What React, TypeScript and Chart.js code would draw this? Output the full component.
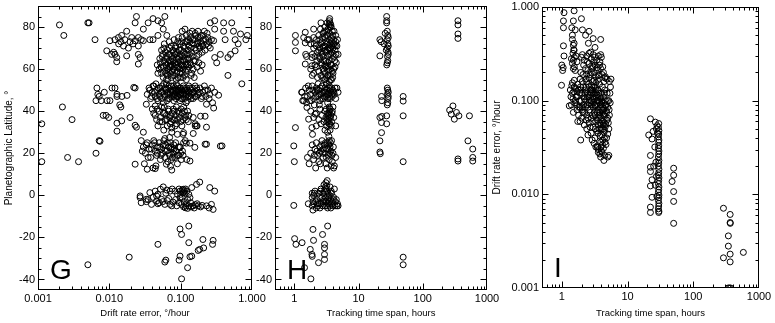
import React, { useEffect, useRef } from 'react';
import { Chart, registerables } from 'chart.js';

Chart.register(...registerables);

type Pt = [number, number];

// ---------- Panel G: drift rate error (deg/hour) vs planetographic latitude ----------
const gSparse: Pt[] = [
  [0.00113, 34], [0.00113, 16], [0.002, 81], [0.0023, 76], [0.0022, 42], [0.0026, 18], [0.0037, 16],
  [0.003, 36], [0.005, 82], [0.0052, 82], [0.0063, 74], [0.005, -33], [0.0065, 20], [0.0072, 26],
  [0.0082, 38], [0.009, 38], [0.0098, 37], [0.0074, 25.7], [0.0128, 34.3], [0.0128, 30.5],
  [0.0195, 37], [0.0149, 35.4], [0.023, 33.3], [0.024, 32.4], [0.03, 30],
];
const gHighLeft: Pt[] = [
  [0.024, 85], [0.023, 82], [0.035, 82], [0.041, 84], [0.048, 83], [0.06, 85], [0.054, 82], [0.03, 79], [0.057, 79],
  [0.0175, 78], [0.0149, 76], [0.0134, 75], [0.0165, 74], [0.0206, 75], [0.023, 73.5], [0.0255, 75], [0.03, 73.5],
  [0.037, 74], [0.041, 74], [0.048, 76], [0.064, 76], [0.0102, 73.5], [0.012, 74], [0.0158, 71], [0.0185, 70],
  [0.0255, 71], [0.0092, 68.7], [0.0108, 67], [0.012, 67], [0.0127, 65.5], [0.0175, 66.3], [0.0255, 67],
  [0.027, 65.5], [0.0255, 62.4], [0.0127, 63.5], [0.0115, 68], [0.0135, 72], [0.0145, 73], [0.0195, 73],
  [0.0215, 72], [0.028, 74],
];
const gHighMain: Pt[] = [
  [0.05, 60], [0.052, 63], [0.054, 58], [0.055, 66], [0.057, 61], [0.058, 64], [0.06, 59], [0.061, 68], [0.062, 62],
  [0.064, 65], [0.065, 57], [0.066, 60], [0.067, 63], [0.068, 67], [0.07, 70], [0.071, 61], [0.072, 58], [0.073, 64],
  [0.075, 66], [0.076, 62], [0.078, 69], [0.079, 60], [0.08, 64], [0.082, 57], [0.083, 67], [0.085, 71], [0.086, 62],
  [0.088, 65], [0.089, 59], [0.09, 68], [0.092, 63], [0.094, 61], [0.095, 66], [0.097, 72], [0.098, 58], [0.1, 64],
  [0.102, 69], [0.104, 62], [0.106, 66], [0.108, 60], [0.11, 71], [0.112, 64], [0.115, 67], [0.117, 59], [0.119, 62],
  [0.122, 73], [0.125, 65], [0.128, 69], [0.13, 61], [0.133, 67], [0.136, 63], [0.14, 70], [0.143, 58], [0.146, 66],
  [0.15, 72], [0.054, 69], [0.059, 72], [0.063, 55], [0.047, 62], [0.048, 58], [0.069, 73], [0.074, 56], [0.081, 74],
  [0.087, 55], [0.093, 75], [0.099, 56], [0.105, 75], [0.113, 57], [0.12, 76], [0.127, 74], [0.138, 75],
  [0.155, 74], [0.16, 77], [0.165, 69], [0.17, 72], [0.175, 75], [0.18, 67], [0.185, 70], [0.19, 73], [0.195, 76],
  [0.2, 68], [0.205, 71], [0.21, 74], [0.215, 78], [0.22, 69], [0.23, 72], [0.24, 75], [0.25, 73], [0.26, 70],
  [0.27, 74], [0.16, 64], [0.17, 61], [0.18, 63], [0.19, 59], [0.2, 62], [0.15, 60], [0.14, 57], [0.155, 56],
  [0.135, 77], [0.145, 78], [0.175, 78], [0.105, 78], [0.115, 79],
];
const gHighCore: Pt[] = [
  [0.051, 65], [0.053, 61], [0.056, 67], [0.058, 70], [0.06, 63], [0.062, 58], [0.063, 66], [0.065, 69], [0.067, 59],
  [0.069, 64], [0.07, 67], [0.072, 62], [0.074, 71], [0.076, 59], [0.077, 65], [0.079, 68], [0.081, 61], [0.083, 63],
  [0.084, 70], [0.086, 67], [0.088, 58], [0.09, 61], [0.091, 73], [0.093, 65], [0.095, 69], [0.097, 60], [0.099, 67],
  [0.101, 62], [0.103, 73], [0.105, 58], [0.107, 64], [0.109, 68], [0.111, 61], [0.114, 70], [0.116, 65], [0.118, 73],
  [0.121, 60], [0.124, 67], [0.126, 62], [0.129, 71], [0.132, 65], [0.135, 73], [0.139, 62], [0.142, 68], [0.147, 74],
  [0.152, 64], [0.158, 70], [0.163, 76], [0.168, 66], [0.173, 73], [0.182, 71], [0.188, 75], [0.198, 72], [0.208, 76],
  [0.225, 74], [0.235, 77], [0.245, 71], [0.057, 56], [0.066, 55], [0.078, 57], [0.092, 56], [0.108, 56], [0.12, 55],
];
const gHighRight: Pt[] = [
  [0.26, 82], [0.3, 83], [0.4, 82], [0.52, 82], [0.3, 79], [0.4, 78], [0.55, 78], [0.69, 76.7], [0.86, 76],
  [0.42, 74], [0.58, 74], [0.82, 74], [0.29, 73.5], [0.64, 72], [0.58, 68.7], [0.5, 67], [0.36, 67], [0.3, 65.5],
  [0.46, 65.5], [0.32, 63], [0.46, 57], [0.72, 53],
];
const gMid: Pt[] = [
  [0.0067, 51], [0.0069, 48], [0.0065, 45], [0.0077, 45], [0.0093, 45], [0.0102, 45], [0.0109, 51], [0.012, 51],
  [0.0128, 48], [0.0128, 47], [0.015, 47], [0.0177, 47.5], [0.014, 43], [0.0145, 42], [0.023, 51], [0.0085, 49],
  [0.0072, 47], [0.022, 51.3],
  [0.034, 48], [0.036, 51], [0.038, 46], [0.04, 49], [0.042, 52], [0.044, 47], [0.046, 50], [0.048, 45], [0.05, 48],
  [0.052, 51], [0.054, 46], [0.056, 49], [0.058, 53], [0.06, 47], [0.062, 50], [0.064, 45], [0.066, 48], [0.068, 51],
  [0.07, 46], [0.072, 49], [0.074, 52], [0.076, 47], [0.078, 50], [0.08, 45], [0.082, 48], [0.084, 51], [0.086, 46],
  [0.088, 49], [0.09, 52], [0.092, 47], [0.094, 50], [0.096, 48], [0.098, 45], [0.1, 51], [0.103, 49], [0.106, 46],
  [0.109, 52], [0.112, 48], [0.115, 50], [0.118, 47], [0.121, 51], [0.124, 45], [0.127, 49], [0.13, 52], [0.134, 47],
  [0.138, 50], [0.142, 48], [0.146, 51], [0.15, 46], [0.155, 49], [0.16, 52], [0.165, 47], [0.17, 50], [0.178, 48],
  [0.186, 51], [0.195, 46], [0.205, 49], [0.215, 52], [0.225, 47], [0.24, 50], [0.255, 48], [0.27, 51], [0.3, 49],
  [0.045, 53], [0.057, 44], [0.087, 53], [0.119, 44], [0.063, 53], [0.033, 43.3], [0.044, 42.5],
  [0.04, 41], [0.044, 38], [0.046, 36], [0.048, 33], [0.05, 40], [0.052, 37], [0.055, 35], [0.057, 39], [0.059, 42],
  [0.061, 36], [0.063, 38], [0.065, 33], [0.068, 40], [0.07, 37], [0.073, 35], [0.076, 39], [0.079, 41], [0.082, 36],
  [0.085, 38], [0.088, 34], [0.092, 40], [0.096, 37], [0.1, 35], [0.105, 39], [0.11, 42], [0.115, 37], [0.12, 36],
  [0.125, 40], [0.13, 38], [0.15, 37], [0.16, 34], [0.075, 32], [0.058, 31],
  [0.23, 43.3], [0.28, 44], [0.29, 41.5], [0.34, 47.6], [0.19, 37.6], [0.22, 37.6], [0.17, 33], [0.16, 33],
  [0.23, 32.4], [0.108, 29], [0.104, 33], [0.075, 30], [0.167, 33], [0.15, 29.4], [0.11, 29.8], [0.09, 29],
];
const gMidCore: Pt[] = [
  [0.037, 50], [0.039, 47], [0.041, 52], [0.043, 49], [0.047, 46], [0.049, 51], [0.051, 47], [0.053, 49], [0.055, 52],
  [0.059, 48], [0.061, 51], [0.065, 49], [0.067, 46], [0.069, 52], [0.071, 48], [0.073, 50], [0.077, 49], [0.079, 52],
  [0.081, 47], [0.083, 50], [0.085, 48], [0.089, 47], [0.091, 50], [0.093, 49], [0.097, 51], [0.099, 48], [0.101, 46],
  [0.104, 50], [0.107, 48], [0.11, 51], [0.113, 46], [0.117, 49], [0.12, 48], [0.123, 50], [0.128, 47], [0.132, 49],
  [0.136, 51], [0.14, 46], [0.148, 49], [0.158, 47], [0.168, 51], [0.182, 49], [0.2, 47], [0.22, 50], [0.25, 46],
  [0.042, 39], [0.047, 41], [0.051, 35], [0.054, 42], [0.06, 39], [0.064, 36], [0.067, 41], [0.072, 38], [0.078, 36],
  [0.081, 40], [0.087, 42], [0.09, 36], [0.095, 39], [0.102, 41], [0.108, 36], [0.113, 40], [0.118, 38], [0.128, 35],
  [0.071, 34], [0.084, 33],
];
const gLow: Pt[] = [
  [0.23, 24.3], [0.36, 23.4], [0.135, 24.8], [0.12, 24.8], [0.098, 22.8], [0.158, 22.8], [0.116, 26],
  [0.028, 26], [0.03, 23], [0.032, 20], [0.034, 25], [0.036, 22], [0.038, 18], [0.04, 24], [0.042, 26], [0.044, 21],
  [0.046, 19], [0.048, 23], [0.05, 25], [0.052, 17], [0.054, 22], [0.056, 20], [0.058, 26], [0.06, 18], [0.062, 24],
  [0.064, 21], [0.066, 16], [0.068, 23], [0.07, 19], [0.072, 25], [0.074, 17], [0.076, 22], [0.078, 20], [0.08, 24],
  [0.083, 18], [0.086, 21], [0.09, 15], [0.094, 19], [0.098, 23], [0.102, 17], [0.106, 21], [0.11, 25], [0.045, 14],
  [0.041, 13], [0.075, 12], [0.031, 15], [0.023, 14.8], [0.034, 12.4], [0.063, 14.8], [0.072, 13.8], [0.122, 17],
  [0.135, 16.3], [0.044, 12.7], [0.06, 27], [0.07, 27.5], [0.22, 24.3], [0.38, 23.5],
  [0.029, 21], [0.033, 24], [0.035, 18], [0.039, 22], [0.043, 25], [0.047, 20], [0.051, 23], [0.053, 19], [0.057, 24],
  [0.061, 21], [0.065, 25], [0.069, 20], [0.073, 23], [0.077, 18], [0.081, 22], [0.085, 25], [0.089, 19], [0.093, 23],
  [0.1, 20], [0.108, 19],
];
const gEquator: Pt[] = [
  [0.037, 1.3], [0.044, 2], [0.052, 2.9], [0.057, 4], [0.071, 2], [0.083, 2], [0.098, 2], [0.109, 2.9], [0.122, 2],
  [0.143, 3.7], [0.167, 5.2], [0.185, 6.3], [0.256, 3.7], [0.3, 2], [0.13, 0.5], [0.027, -0.3], [0.11, 1.5],
  [0.105, 2.5], [0.115, 1], [0.062, 1], [0.09, 0.5],
  [0.027, -1.1], [0.028, -3.5], [0.033, -1.9], [0.039, -4.3], [0.046, -2.7], [0.054, -1.9], [0.06, -4.3],
  [0.071, -4.3], [0.088, -5], [0.103, -4.3], [0.116, -5.9], [0.13, -5], [0.15, -5], [0.176, -5], [0.23, -5],
  [0.27, -4.3], [0.285, -6.7], [0.135, -1.1], [0.098, -1.1], [0.046, -0.3], [0.033, -3], [0.05, -3.5],
  [0.065, -2.5], [0.078, -3.2], [0.12, -4], [0.14, -5.5], [0.16, -4.5], [0.19, -5.5], [0.11, -5.5], [0.125, -6.2],
  [0.035, -2], [0.041, -1], [0.048, -4], [0.056, -3], [0.068, -1.5], [0.075, -5], [0.085, -2], [0.095, -3.5],
  [0.105, -1], [0.112, -3], [0.118, -5], [0.125, -2], [0.138, -3.5], [0.155, -6], [0.17, -4], [0.2, -4.8],
  [0.25, -6], [0.1, 0.5], [0.117, 3], [0.107, 1.2], [0.113, 2.2], [0.095, 3], [0.076, 3], [0.064, 2.5], [0.048, 0.5],
];
const gSouth: Pt[] = [
  [0.098, -16], [0.13, -14.6], [0.103, -18.6], [0.13, -22.5], [0.205, -21], [0.285, -21.4], [0.28, -23.3],
  [0.21, -25], [0.185, -25.7], [0.176, -26.2], [0.143, -28.9], [0.135, -29.2], [0.048, -23.3], [0.098, -28.9],
  [0.095, -30.8], [0.062, -30.8], [0.06, -31.7], [0.125, -34.4], [0.103, -39.7], [0.019, -29.4],
];

// ---------- Panel H: tracking time span (hours) vs planetographic latitude ----------
const hSparse: Pt[] = [
  [1.04, 76], [1.04, 72.7], [1.04, 68.7], [1.48, 77.5], [1.4, 75], [1.48, 72.5], [2.0, 79], [1.5, 67], [1.55, 66],
  [1.48, 62.4], [1.88, 65.5], [1.88, 61.6], [1.04, 32.2], [0.98, 23.5], [1.88, 32.2], [1.92, 29], [1.67, 36.2],
  [1.4, 45], [1.32, 49], [1.57, 41.8], [2.11, 38.6], [1.01, -20.6], [1.06, -23.3], [1.32, -22.5], [1.95, -16.2],
  [1.99, -21.4], [1.77, -25.7], [1.88, -28.1], [1.9, -29], [2.95, -23.3], [2.95, -25], [2.95, -28.1], [2.95, -30.5],
  [2.38, -32], [3.3, -14.6], [2.75, -18.6], [1.81, -39.7], [0.98, -4.8], [1.44, -34.4], [1.0, 16],
];
const hDense: Pt[] = [
  [2.6, 82], [3.0, 80], [3.5, 83], [3.6, 82], [3.7, 81], [3.6, 80], [3.2, 78], [2.8, 77], [3.9, 78], [2.4, 76],
  [2.2, 74], [2.5, 74], [2.7, 73], [3.0, 75], [3.3, 76], [3.5, 74], [3.8, 75], [4.1, 74], [4.4, 73], [4.7, 74],
  [1.8, 72], [2.0, 70], [2.2, 71], [2.4, 69], [2.6, 72], [2.8, 70], [3.0, 71], [3.2, 73], [3.4, 70], [3.6, 72],
  [3.8, 71], [4.0, 70], [4.3, 69], [4.6, 71], [1.9, 67], [2.1, 66], [2.3, 68], [2.5, 65], [2.7, 67], [2.9, 64],
  [3.1, 68], [3.3, 66], [3.5, 64], [3.7, 67], [3.9, 65], [4.2, 66], [4.5, 63], [2.6, 63], [3.0, 62], [3.4, 61],
  [3.8, 62], [4.1, 60], [1.8, 60], [2.0, 58], [2.2, 61], [2.4, 59], [2.6, 57], [2.8, 60], [3.0, 58], [3.2, 56],
  [3.4, 59], [3.6, 57], [3.8, 55], [4.0, 58], [2.3, 56], [2.9, 55], [3.5, 54], [1.9, 57], [2.1, 62], [2.5, 70],
  [3.1, 64], [3.3, 69], [4.8, 67], [4.4, 76], [2.0, 75], [1.7, 74], [1.6, 74], [2.8, 66], [3.6, 69], [4.2, 72],
  [2.55, 79], [2.75, 75], [2.95, 78], [3.15, 76], [3.35, 79], [3.55, 77], [3.75, 73], [3.95, 76], [4.15, 78],
  [4.35, 71], [2.65, 68], [2.85, 71], [3.05, 69], [3.25, 72], [3.45, 67], [3.65, 70], [3.85, 68], [4.05, 72],
  [4.25, 64], [4.45, 67], [2.7, 62], [2.9, 59], [3.1, 61], [3.3, 63], [3.5, 60], [3.7, 62], [3.9, 59], [4.3, 61],
  [2.75, 56], [3.05, 55], [3.35, 57], [3.65, 55], [3.95, 56], [3.25, 82], [3.45, 81], [3.75, 80], [3.55, 84],
  [2.45, 66], [2.25, 64], [2.05, 72],
];
const hMid: Pt[] = [
  [1.3, 49], [1.5, 51], [1.6, 47], [1.7, 50], [1.8, 48], [1.9, 52], [2.0, 46], [2.1, 49], [2.2, 51], [2.3, 47],
  [2.4, 50], [2.5, 45], [2.6, 48], [2.7, 52], [2.8, 46], [2.9, 49], [3.0, 51], [3.1, 47], [3.2, 50], [3.3, 44],
  [3.4, 48], [3.5, 52], [3.6, 46], [3.7, 49], [3.8, 51], [3.9, 47], [4.0, 50], [4.2, 48], [4.4, 46], [4.6, 51],
  [4.8, 49], [1.35, 45], [1.45, 47], [1.55, 44], [1.75, 45], [2.05, 43], [2.45, 43], [3.15, 53], [2.35, 53], [1.65, 52],
  [2.15, 47], [2.25, 50], [2.55, 51], [2.65, 46], [2.75, 49], [2.95, 47], [3.05, 49], [3.25, 48], [3.45, 51],
  [3.55, 47], [3.65, 50], [3.85, 48], [4.1, 49], [4.3, 51], [3.35, 46], [1.95, 50], [1.85, 45], [2.45, 48],
  [1.8, 40], [2.0, 37], [2.2, 39], [2.4, 36], [2.5, 41], [2.7, 38], [2.9, 35], [3.0, 40], [3.1, 37], [3.2, 33],
  [3.3, 39], [3.4, 36], [3.5, 42], [3.6, 34], [3.7, 38], [3.8, 35], [3.9, 40], [4.1, 37], [4.4, 33], [3.0, 31],
  [3.3, 30], [3.6, 31], [2.6, 34], [2.2, 33], [4.0, 42], [3.45, 28], [3.5, 26],
  [3.15, 41], [3.25, 36], [3.35, 38], [3.45, 34], [3.55, 40], [3.65, 37], [3.75, 33], [3.85, 39], [3.45, 39],
  [3.6, 41], [3.3, 35], [3.5, 37],
];
const hLow: Pt[] = [
  [1.6, 18], [1.8, 20], [1.9, 24], [2.0, 17], [2.1, 22], [2.2, 25], [2.3, 19], [2.4, 16], [2.5, 23], [2.6, 21],
  [2.7, 26], [2.8, 18], [2.9, 24], [3.0, 20], [3.1, 15], [3.2, 22], [3.3, 25], [3.4, 19], [3.5, 17], [3.6, 23],
  [3.7, 21], [3.8, 26], [3.9, 16], [4.0, 20], [4.2, 14], [4.4, 18], [2.15, 13], [1.7, 15], [2.55, 15], [3.25, 13],
  [4.1, 13], [3.75, 14], [2.45, 20], [2.65, 24], [2.85, 22], [3.05, 25], [3.15, 18], [3.35, 22], [3.55, 20],
  [3.65, 25], [3.85, 19], [4.05, 23], [2.25, 21], [2.05, 19], [3.45, 24], [2.75, 20],
  [1.9, 1], [1.9, -1], [1.95, -3], [1.9, -5], [1.95, -7], [2.0, 0], [2.1, 2], [2.2, -2], [2.3, -4], [2.4, 1],
  [2.5, -6], [2.6, 3], [2.7, -1], [2.8, -3], [2.9, 5], [3.0, -5], [3.1, 6], [3.2, 2], [3.3, -2], [3.4, -4],
  [3.5, 0], [3.6, 4], [3.7, -6], [3.8, 1], [3.9, -3], [4.0, -5], [4.2, 3], [4.5, -2], [4.7, -4], [4.8, -5],
  [2.2, -6], [2.5, -1], [2.8, 1], [3.1, -1], [3.3, -6], [3.5, -3], [2.0, -4], [2.35, -5], [2.65, -4], [3.15, -3],
  [3.25, 7], [3.05, 4], [4.1, -1], [4.3, -5], [1.65, -4],
  [2.05, 1], [2.15, -3], [2.45, -4], [2.55, 2], [2.75, -5], [2.85, -2], [2.95, 2], [3.05, -3], [3.2, -5], [3.35, 1],
  [3.45, -1], [3.55, -5], [3.65, -2], [3.75, 2], [3.85, -4], [4.05, -2], [4.35, -3], [4.6, -5], [3.2, 4.5], [3.1, 3],
];
const hLong: Pt[] = [
  [27.4, 85], [27.4, 83], [27.4, 82], [21.5, 74], [22.5, 73], [25, 72], [28, 78], [28.5, 76], [28, 74], [28.5, 72],
  [28, 70], [28.8, 68], [28.2, 66], [28.5, 64], [28, 63], [27.5, 62], [29, 75], [29, 71], [29, 67], [21.5, 66.3],
  [26, 77], [27, 69], [22.8, 47], [23, 45], [28, 51], [28.5, 50], [28.2, 48], [28.8, 46], [28.5, 44], [28, 43],
  [29, 47], [29, 49], [21.5, 37], [23, 37.5], [27.4, 37.8], [27.4, 34], [22.8, 34.6], [22.8, 29.8], [21.5, 25.9],
  [21.5, 20.6], [21.8, 19.8], [49.5, 47], [49.5, 44.8], [49.5, 37.8], [49.5, 16], [49.5, -29.4], [49.5, -33],
  [353, 83], [353, 81], [353, 76.7], [353, 74.6], [295, 42.5], [278, 38.6], [335, 39.4], [310, 36.2], [262, 40.5],
  [365, 37.8], [533, 37.8], [505, 25.9], [353, 16.3], [353, 17.3], [600, 16.3], [600, 18], [600, 22],
];

// ---------- Panel I: tracking time span (hours) vs drift rate error ----------
const iShort: Pt[] = [
  [1.08, 0.87], [1.54, 0.91], [1.06, 0.71], [1.5, 0.71], [1.99, 0.75], [1.06, 0.6], [1.42, 0.6], [1.6, 0.57],
  [2.06, 0.57], [2.6, 0.55], [2.3, 0.5], [3.0, 0.46], [3.9, 0.45], [1.45, 0.5], [1.45, 0.45], [1.54, 0.41],
  [1.06, 0.385], [2.54, 0.41], [3.2, 0.37], [1.54, 0.345], [1.08, 0.3], [1.0, 0.24], [1.03, 0.21], [1.05, 0.225],
  [0.99, 0.146], [2.06, 0.31], [2.6, 0.32], [3.9, 0.31], [1.5, 0.39], [1.52, 0.35], [1.48, 0.32], [1.55, 0.29],
  [1.5, 0.27], [1.45, 0.25], [1.55, 0.23], [1.5, 0.22], [1.6, 0.21], [1.4, 0.28], [1.65, 0.3], [1.7, 0.26],
  [2.0, 0.29], [2.2, 0.27], [2.4, 0.3], [2.6, 0.25], [2.8, 0.28], [3.0, 0.31], [3.2, 0.24], [3.4, 0.27], [3.6, 0.3],
  [3.8, 0.26], [4.0, 0.29], [4.2, 0.23], [2.3, 0.22], [2.5, 0.21], [2.7, 0.19], [2.9, 0.22], [3.1, 0.2], [3.3, 0.18],
  [3.5, 0.21], [3.7, 0.19], [3.9, 0.22], [4.3, 0.2], [4.6, 0.18], [4.9, 0.17], [2.1, 0.19], [1.9, 0.17], [2.35, 0.17],
  [3.05, 0.26], [4.5, 0.175],
  [1.35, 0.13], [1.45, 0.12], [1.55, 0.14], [1.65, 0.11], [1.75, 0.15], [1.85, 0.1], [1.95, 0.13], [2.05, 0.16],
  [2.15, 0.09], [2.25, 0.12], [2.35, 0.14], [2.45, 0.11], [2.55, 0.15], [2.65, 0.08], [2.75, 0.13], [2.85, 0.1],
  [2.95, 0.16], [3.05, 0.12], [3.15, 0.09], [3.25, 0.14], [3.35, 0.11], [3.45, 0.075], [3.55, 0.13], [3.65, 0.1],
  [3.75, 0.15], [3.85, 0.085], [3.95, 0.12], [4.05, 0.095], [4.15, 0.14], [4.3, 0.11], [4.5, 0.13], [4.7, 0.09],
  [4.9, 0.12], [5.2, 0.1], [5.5, 0.14], [5.3, 0.16], [5.6, 0.17], [1.4, 0.09], [1.3, 0.088], [1.5, 0.075], [1.6, 0.1],
  [1.7, 0.08], [1.8, 0.07], [1.9, 0.085], [2.0, 0.065], [2.1, 0.075], [2.2, 0.105], [2.4, 0.07], [2.6, 0.095],
  [2.8, 0.065], [3.0, 0.085], [3.2, 0.07], [3.4, 0.1], [3.6, 0.065], [3.8, 0.075], [4.0, 0.065], [4.2, 0.08],
  [4.4, 0.07], [4.6, 0.1], [4.8, 0.075], [5.0, 0.085], [5.3, 0.07], [5.0, 0.065], [1.55, 0.165], [1.45, 0.155],
  [2.85, 0.145], [3.5, 0.165], [1.7, 0.125], [2.3, 0.085], [2.7, 0.115], [3.1, 0.105], [3.9, 0.105], [4.4, 0.12],
  [5.4, 0.12],
  [2.2, 0.055], [2.4, 0.05], [2.6, 0.058], [2.8, 0.045], [3.0, 0.052], [3.2, 0.04], [3.4, 0.048], [3.6, 0.055],
  [3.8, 0.042], [4.0, 0.05], [4.2, 0.038], [4.4, 0.046], [4.6, 0.053], [4.8, 0.04], [5.0, 0.044], [5.2, 0.05],
  [3.1, 0.035], [3.5, 0.033], [3.9, 0.036], [4.3, 0.031], [4.7, 0.034], [1.94, 0.038], [1.9, 0.06], [3.3, 0.032],
  [3.6, 0.03], [4.0, 0.029], [2.5, 0.043], [2.9, 0.038], [3.47, 0.032], [3.6, 0.028], [3.8, 0.027], [3.9, 0.025],
  [4.1, 0.028], [4.37, 0.023], [5.2, 0.026], [5.0, 0.025], [4.5, 0.026],
];
const iCore: Pt[] = [
  [1.38, 0.11], [1.42, 0.145], [1.48, 0.105], [1.52, 0.125], [1.58, 0.095], [1.62, 0.135], [1.68, 0.09], [1.72, 0.11],
  [1.78, 0.13], [1.82, 0.085], [1.88, 0.12], [1.92, 0.14], [1.98, 0.1], [2.02, 0.12], [2.08, 0.085], [2.12, 0.14],
  [2.18, 0.11], [2.22, 0.075], [2.28, 0.13], [2.32, 0.1], [2.38, 0.16], [2.42, 0.09], [2.48, 0.12], [2.52, 0.065],
  [2.58, 0.11], [2.62, 0.14], [2.68, 0.1], [2.72, 0.075], [2.78, 0.12], [2.82, 0.09], [2.88, 0.13], [2.92, 0.07],
  [2.98, 0.11], [3.02, 0.095], [3.08, 0.14], [3.12, 0.075], [3.18, 0.12], [3.22, 0.088], [3.28, 0.06], [3.32, 0.13],
  [3.38, 0.09], [3.42, 0.115], [3.48, 0.062], [3.52, 0.1], [3.58, 0.08], [3.62, 0.12], [3.68, 0.07], [3.72, 0.095],
  [3.78, 0.058], [3.82, 0.11], [3.88, 0.068], [3.92, 0.09], [3.98, 0.055], [4.02, 0.08], [4.08, 0.1], [4.12, 0.06],
  [4.18, 0.085], [4.22, 0.05], [4.28, 0.072], [4.32, 0.095], [4.38, 0.058], [4.42, 0.082], [4.48, 0.048], [4.52, 0.068],
  [4.58, 0.09], [4.65, 0.056], [4.75, 0.078], [4.85, 0.062], [4.95, 0.1], [5.1, 0.058], [5.25, 0.08], [5.45, 0.095],
  [3.1, 0.165], [3.3, 0.155], [2.6, 0.175], [2.8, 0.2], [3.6, 0.185], [4.1, 0.19], [4.4, 0.16], [2.45, 0.26],
  [2.95, 0.235], [3.45, 0.225], [3.75, 0.24], [2.15, 0.24], [2.75, 0.33], [3.15, 0.29], [1.95, 0.2], [2.4, 0.19],
  [3.25, 0.05], [3.55, 0.045], [3.75, 0.05], [4.05, 0.043], [4.25, 0.055], [4.45, 0.04], [4.55, 0.036], [3.95, 0.032],
  [4.15, 0.034], [2.7, 0.052], [2.95, 0.06], [2.35, 0.062], [2.05, 0.08], [1.75, 0.06],
];
const iLong: Pt[] = [
  [22.3, 0.064], [26.5, 0.059], [28.2, 0.054], [21, 0.043], [23.6, 0.039], [29.8, 0.036], [22.3, 0.026],
  [22.3, 0.0195], [22.3, 0.0175], [23.6, 0.0143], [22.3, 0.0123], [23.6, 0.0093], [22.3, 0.0073], [22.3, 0.0064],
  [29.8, 0.057], [29.5, 0.052], [30, 0.048], [29.8, 0.044], [29.5, 0.041], [30, 0.038], [29.8, 0.033], [29.5, 0.031],
  [30, 0.029], [29.8, 0.027], [29.5, 0.025], [30, 0.023], [29.8, 0.0215], [29.5, 0.02], [30, 0.0185], [29.8, 0.017],
  [29.5, 0.016], [30, 0.015], [29.8, 0.014], [29.5, 0.013], [30, 0.012], [29.8, 0.0112], [29.5, 0.0105], [30, 0.0098],
  [29.8, 0.0092], [29.5, 0.0086], [30, 0.008], [29.8, 0.0075], [29.5, 0.007], [30, 0.0066], [29.8, 0.0064],
  [28.5, 0.045], [27.5, 0.05], [27, 0.022], [26.5, 0.0125], [28, 0.0095], [25, 0.02], [26, 0.032], [24.5, 0.047],
  [27.5, 0.0155],
  [50.3, 0.019], [50.3, 0.016], [47.6, 0.0137], [50.3, 0.0107], [50.3, 0.0084], [50.3, 0.0049],
  [288, 0.0071], [364, 0.0061], [364, 0.005], [366, 0.0049], [342, 0.0036], [342, 0.0028], [364, 0.0023],
  [288, 0.0021], [364, 0.0019], [578, 0.0024], [340, 0.001], [355, 0.001], [370, 0.001],
];

// ---------- axes ----------
const latTicks = [-40, -20, 0, 20, 40, 60, 80];
const latLabels = ['-40', '-20', '0', '20', '40', '60', '80'];
const driftTicks = [0.001, 0.01, 0.1, 1];
const driftLabels = ['0.001', '0.010', '0.100', '1.000'];
const spanTicks = [1, 10, 100, 1000];
const spanLabels = ['1', '10', '100', '1000'];
const titleLat = 'Planetographic Latitude, °';
const titleDrift = 'Drift rate error, °/hour';
const titleSpan = 'Tracking time span, hours';

const FONT = "'Liberation Sans', Arial, Helvetica, sans-serif";

type AxisSpec = {
  type: 'linear' | 'logarithmic';
  min: number;
  max: number;
  ticks: number[];
  labels: string[];
  title: string | null;
};

type PanelSpec = {
  letter: string;
  box: { left: number; width: number; height: number };
  area: { left: number; top: number; right: number; bottom: number };
  x: AxisSpec;
  y: AxisSpec;
  data: Pt[];
};

const H_CANVAS = 323;

const panels: PanelSpec[] = [
  {
    letter: 'G',
    box: { left: 0, width: 270, height: H_CANVAS },
    area: { left: 38, top: 6, right: 252, bottom: 290 },
    x: { type: 'logarithmic', min: 0.001, max: 1, ticks: driftTicks, labels: driftLabels, title: titleDrift },
    y: { type: 'linear', min: -45, max: 90, ticks: latTicks, labels: latLabels, title: titleLat },
    data: [...gSparse, ...gHighLeft, ...gHighMain, ...gHighCore, ...gHighRight, ...gMid, ...gMidCore, ...gLow, ...gEquator, ...gSouth],
  },
  {
    letter: 'H',
    box: { left: 250, width: 250, height: H_CANVAS },
    area: { left: 275, top: 6, right: 487, bottom: 290 },
    x: { type: 'logarithmic', min: 0.5, max: 1000, ticks: spanTicks, labels: spanLabels, title: titleSpan },
    y: { type: 'linear', min: -45, max: 90, ticks: latTicks, labels: latLabels, title: null },
    data: [...hSparse, ...hDense, ...hMid, ...hLow, ...hLong],
  },
  {
    letter: 'I',
    box: { left: 488, width: 287, height: H_CANVAS },
    area: { left: 542, top: 7, right: 759, bottom: 288 },
    x: { type: 'logarithmic', min: 0.5, max: 1000, ticks: spanTicks, labels: spanLabels, title: titleSpan },
    y: { type: 'logarithmic', min: 0.001, max: 1, ticks: driftTicks, labels: driftLabels, title: titleDrift },
    data: [...iShort, ...iCore, ...iLong],
  },
];

function minorValues(spec: AxisSpec): { v: number; major: boolean }[] {
  const out: { v: number; major: boolean }[] = [];
  if (spec.type === 'logarithmic') {
    const d0 = Math.floor(Math.log10(spec.min));
    const d1 = Math.ceil(Math.log10(spec.max));
    for (let d = d0; d <= d1; d++) {
      for (let m = 1; m <= 9; m++) {
        const v = m * Math.pow(10, d);
        if (v >= spec.min * 0.999 && v <= spec.max * 1.001) out.push({ v, major: m === 1 });
      }
    }
  } else {
    for (let v = Math.ceil(spec.min / 5) * 5; v <= spec.max; v += 5) {
      out.push({ v, major: v % 20 === 0 });
    }
  }
  return out;
}

function Panel({ spec }: { spec: PanelSpec }) {
  const ref = useRef<HTMLCanvasElement | null>(null);
  useEffect(() => {
    if (!ref.current) return;
    const { box, area } = spec;
    const localLeft = area.left - box.left;
    const localRight = area.right - box.left;

    const framePlugin = {
      id: 'frame' + spec.letter,
      afterDatasetsDraw(chart: any) {
        const { ctx, chartArea: a, scales } = chart;
        const xs = scales.x;
        const ys = scales.y;
        ctx.save();
        ctx.strokeStyle = '#000';
        ctx.lineWidth = 1;
        const L = Math.round(a.left) + 0.5;
        const R = Math.round(a.right) - 0.5;
        const T = Math.round(a.top) + 0.5;
        const B = Math.round(a.bottom) - 0.5;
        ctx.strokeRect(L, T, R - L, B - T);
        ctx.beginPath();
        for (const t of minorValues(spec.x)) {
          const px = Math.round(xs.getPixelForValue(t.v)) + 0.5;
          if (px < L || px > R) continue;
          const len = t.major ? 6 : 3;
          ctx.moveTo(px, B);
          ctx.lineTo(px, B - len);
          ctx.moveTo(px, T);
          ctx.lineTo(px, T + len);
        }
        for (const t of minorValues(spec.y)) {
          const py = Math.round(ys.getPixelForValue(t.v)) + 0.5;
          if (py < T || py > B) continue;
          const len = t.major ? 6 : 3;
          ctx.moveTo(L, py);
          ctx.lineTo(L + len, py);
          ctx.moveTo(R, py);
          ctx.lineTo(R - len, py);
        }
        ctx.stroke();
        ctx.fillStyle = '#000';
        ctx.font = `28px ${FONT}`;
        ctx.textAlign = 'left';
        ctx.textBaseline = 'alphabetic';
        ctx.fillText(spec.letter, a.left + 12, a.bottom - 11.5);
        ctx.restore();
      },
    };

    const mkScale = (s: AxisSpec, horizontal: boolean) => ({
      type: s.type,
      min: s.min,
      max: s.max,
      position: horizontal ? 'bottom' : 'left',
      afterBuildTicks: (axis: any) => {
        axis.ticks = s.ticks.map((v) => ({ value: v }));
      },
      afterFit: (axis: any) => {
        if (horizontal) {
          axis.height = box.height - area.bottom;
        } else {
          axis.width = localLeft;
        }
        axis.paddingLeft = 0;
        axis.paddingRight = 0;
        axis.paddingTop = 0;
        axis.paddingBottom = 0;
      },
      grid: { display: false, drawTicks: false },
      border: { display: false },
      ticks: {
        autoSkip: false,
        maxRotation: 0,
        minRotation: 0,
        padding: horizontal ? 2 : 3,
        color: '#000',
        font: { family: FONT, size: 11 },
        callback: (_v: any, i: number) => s.labels[i],
      },
      title: {
        display: !!s.title,
        text: s.title || '',
        color: '#000',
        font: { family: FONT, size: horizontal ? 9.5 : 10 },
        padding: horizontal ? { top: 0, bottom: 4 } : { top: 3, bottom: 0 },
      },
    });

    const chart = new Chart(ref.current, {
      type: 'scatter',
      data: {
        datasets: [
          {
            data: spec.data.map(([x, y]) => ({ x, y })),
            pointRadius: 3,
            pointHoverRadius: 3,
            borderWidth: 1,
            borderColor: '#000',
            backgroundColor: 'rgba(0,0,0,0)',
          },
        ],
      },
      options: {
        animation: false,
        responsive: false,
        maintainAspectRatio: false,
        devicePixelRatio: 1,
        events: [],
        layout: {
          padding: { left: 0, top: area.top, right: box.width - localRight, bottom: 0 },
        },
        plugins: { legend: { display: false }, tooltip: { enabled: false } },
        scales: {
          x: mkScale(spec.x, true) as any,
          y: mkScale(spec.y, false) as any,
        },
      },
      plugins: [framePlugin],
    });
    return () => chart.destroy();
  }, [spec]);

  return (
    <div style={{ position: 'absolute', left: spec.box.left, top: 0, width: spec.box.width, height: spec.box.height }}>
      <canvas
        ref={ref}
        width={spec.box.width}
        height={spec.box.height}
        style={{ width: spec.box.width, height: spec.box.height, display: 'block' }}
      />
    </div>
  );
}

export default function App() {
  return (
    <div style={{ position: 'absolute', left: 0, top: 0, width: 775, height: 323, background: '#fff', overflow: 'hidden' }}>
      {panels.map((p) => (
        <Panel key={p.letter} spec={p} />
      ))}
    </div>
  );
}
